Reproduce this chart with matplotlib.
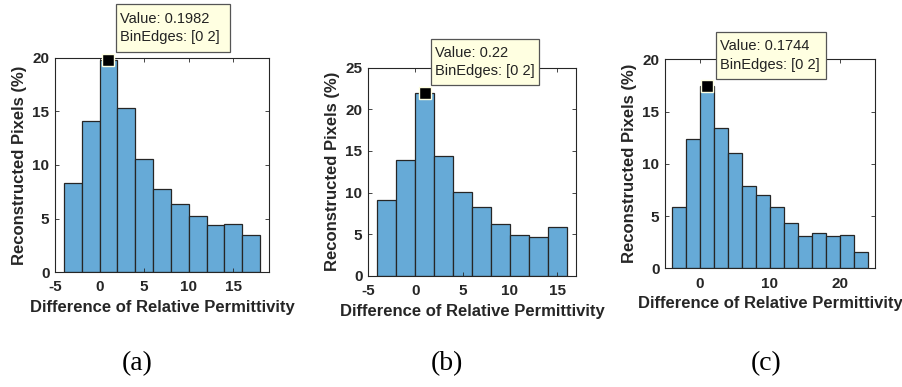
import matplotlib
matplotlib.use("Agg")
import matplotlib.pyplot as plt
import numpy as np

plt.rcParams["axes.unicode_minus"] = False

# Data (percent of reconstructed pixels per 2-wide bin)
edges_a = [-4, -2, 0, 2, 4, 6, 8, 10, 12, 14, 16, 18]
vals_a = [8.3, 14.15, 19.82, 15.3, 10.6, 7.78, 6.38, 5.22, 4.35, 4.47, 3.5]

edges_b = [-4, -2, 0, 2, 4, 6, 8, 10, 12, 14, 16]
vals_b = [9.13, 13.9, 22.0, 14.42, 10.1, 8.2, 6.25, 4.93, 4.65, 5.81]

edges_c = [-4, -2, 0, 2, 4, 6, 8, 10, 12, 14, 16, 18, 20, 22, 24]
vals_c = [5.84, 12.4, 17.44, 13.43, 11.07, 7.88, 7.02, 5.84, 4.37, 3.09, 3.41, 3.09, 3.19, 1.6]

tips = ["Value: 0.1982\nBinEdges: [0 2]", "Value: 0.22\nBinEdges: [0 2]", "Value: 0.1744\nBinEdges: [0 2]"]
panel_labels = ["(a)", "(b)", "(c)"]

xlims = [(-5, 19), (-5, 17), (-5, 25)]
ylims = [(0, 20), (0, 25), (0, 20)]
xticks = [[-5, 0, 5, 10, 15], [-5, 0, 5, 10, 15], [0, 10, 20]]
yticks = [[0, 5, 10, 15, 20], [0, 5, 10, 15, 20, 25], [0, 5, 10, 15, 20]]

W, H = 903, 387
fig = plt.figure(figsize=(W / 100, H / 100), dpi=100)
fig.patch.set_facecolor("white")

# axes boxes in pixels: left, top, right, bottom
boxes = [(55, 58, 269, 272), (368, 67.7, 576, 275.7), (665, 59.3, 875, 268.3)]
tip_pos = [(116, 4, 230, 52), (431, 39, 539, 85), (716, 32, 826, 79)]  # tip box px
label_pos = [(137, 364), (447, 364), (766, 364)]

face = (0.4, 0.668, 0.845)
edge = "#262626"
axcol = "#262626"
font = "Liberation Sans"

edges_all = [edges_a, edges_b, edges_c]
vals_all = [vals_a, vals_b, vals_c]

for i in range(3):
    l, t, r, b = boxes[i]
    ax = fig.add_axes([l / W, 1 - b / H, (r - l) / W, (b - t) / H])
    e = np.array(edges_all[i], dtype=float)
    v = np.array(vals_all[i], dtype=float)
    ax.bar(e[:-1], v, width=np.diff(e), align="edge", color=face,
           edgecolor=edge, linewidth=0.9)
    ax.set_xlim(*xlims[i])
    ax.set_ylim(*ylims[i])
    ax.set_xticks(xticks[i])
    ax.set_yticks(yticks[i])
    ax.tick_params(direction="in", top=True, right=True, length=3, width=0.6,
                   colors=axcol, labelsize=11)
    ax.tick_params(axis="x", pad=6)
    ax.tick_params(axis="y", pad=4)
    for lab in ax.get_xticklabels() + ax.get_yticklabels():
        lab.set_fontweight("bold")
        lab.set_family(font)
        lab.set_color(axcol)
    for s in ax.spines.values():
        s.set_color(axcol)
        s.set_linewidth(0.8)
    ax.set_xlabel("Difference of Relative Permittivity", fontsize=12,
                  fontweight="bold", family=font, color=axcol, labelpad=4)
    ax.set_ylabel("Reconstructed Pixels (%)", fontsize=12,
                  fontweight="bold", family=font, color=axcol, labelpad=4)
    # data tip marker
    pk = int(np.argmax(v))
    xc = (e[pk] + e[pk + 1]) / 2
    ax.plot([xc], [v[pk]], marker="s", markersize=8, color="black",
            markeredgecolor="#FFFFE1", markeredgewidth=1.0, clip_on=False, zorder=5)
    # data tip box
    bx0, by0, bx1, by1 = tip_pos[i]
    rect = plt.Rectangle((bx0 / W, 1 - by1 / H), (bx1 - bx0) / W, (by1 - by0) / H,
                         transform=fig.transFigure, facecolor="#FFFFE1",
                         edgecolor="#555555", linewidth=0.9, zorder=10)
    fig.add_artist(rect)
    fig.text((bx0 + 4) / W, 1 - (by0 + by1) / 2 / H, tips[i], ha="left", va="center",
             fontsize=10.5, family=font, color="#222222", linespacing=1.45, zorder=11)
    lx, ly = label_pos[i]
    fig.text(lx / W, 1 - ly / H, panel_labels[i], ha="center", va="center",
             fontsize=20, family="Liberation Serif", color="black")

fig.savefig("out.png", dpi=100, facecolor="white")
